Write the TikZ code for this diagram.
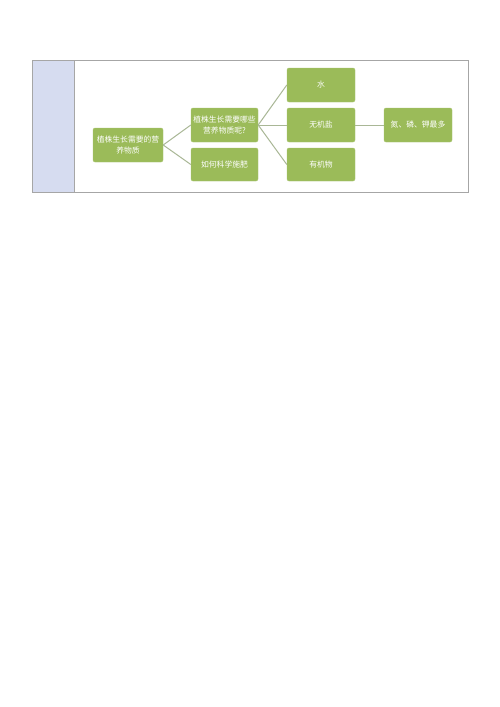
\documentclass[tikz,border=0pt]{standalone}
\usepackage{fontspec}
\setmainfont{Noto Sans CJK SC}
\definecolor{leafgreen}{HTML}{9BBB59}
\definecolor{twiggreen}{HTML}{A9B796}
\definecolor{stripblue}{HTML}{D6DCF0}
\definecolor{framegray}{HTML}{A6A6A6}
\tikzset{
  topic/.style={draw=leafgreen!85!white, fill=leafgreen, rounded corners=2pt, text=white,
    font=\fontsize{7.8}{11}\selectfont, align=center, inner sep=0.5pt,
    minimum width=68pt, minimum height=34pt},
  twig/.style={draw=twiggreen, line width=1pt}
}
\begin{document}
\begin{tikzpicture}[x=1pt, y=-1pt]
\useasboundingbox (0,0) rectangle (500,707);
\fill[white] (0,0) rectangle (500,707);
% frame and side strip
\draw[framegray, fill=stripblue] (32,60) rectangle (74,192);
\draw[framegray] (32,60) rectangle (468,192);
% nodes
\node[topic, minimum width=70pt] (root) at (128,145) {植株生长需要的营\\养物质};
\node[topic, minimum width=67pt] (need) at (224.5,125) {植株生长需要哪些\\营养物质呢?};
\node[topic, minimum width=67pt, minimum height=33pt] (fert) at (224.5,164.5) {如何科学施肥};
\node[topic] (water) at (321,85) {水};
\node[topic] (salt) at (321,125) {无机盐};
\node[topic, minimum height=33pt] (organic) at (321,164.5) {有机物};
\node[topic] (npk) at (418,125) {氮、磷、钾最多};
% connectors
\draw[twig] (root.east) -- (need.west);
\draw[twig] (root.east) -- (fert.west);
\draw[twig] (need.east) -- (water.west);
\draw[twig] (need.east) -- (salt.west);
\draw[twig] (need.east) -- (organic.west);
\draw[twig] (salt.east) -- (npk.west);
\end{tikzpicture}
\end{document}
